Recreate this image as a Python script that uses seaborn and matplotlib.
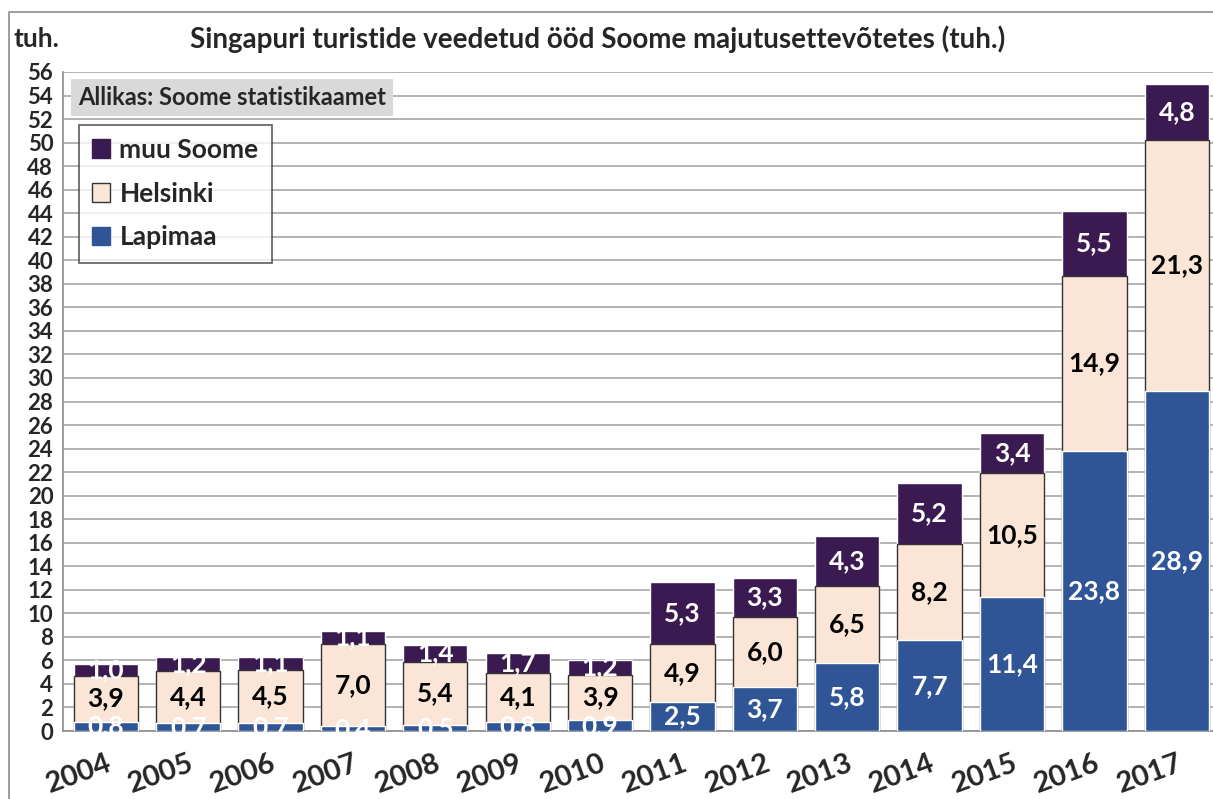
import numpy as np
import matplotlib
matplotlib.use('Agg')
import matplotlib.pyplot as plt
import seaborn as sns
import pandas as pd
from matplotlib.lines import Line2D
from matplotlib.patches import Patch

years = ['2004', '2005', '2006', '2007', '2008', '2009', '2010',
         '2011', '2012', '2013', '2014', '2015', '2016', '2017']
lapimaa = [0.8, 0.7, 0.7, 0.4, 0.5, 0.8, 0.9, 2.5, 3.7, 5.8, 7.7, 11.4, 23.8, 28.9]
helsinki = [3.9, 4.4, 4.5, 7.0, 5.4, 4.1, 3.9, 4.9, 6.0, 6.5, 8.2, 10.5, 14.9, 21.3]
muu_soome = [1.0, 1.2, 1.1, 1.1, 1.4, 1.7, 1.2, 5.3, 3.3, 4.3, 5.2, 3.4, 5.5, 4.8]

c_lap = '#2F5597'
c_hel = '#FBE5D6'
c_muu = '#3A1A50'

sns.set_style('white')
plt.rcParams['font.family'] = ['Lato', 'DejaVu Sans']
plt.rcParams['font.weight'] = 'bold'

df = pd.DataFrame({'aasta': years, 'Lapimaa': lapimaa,
                   'Helsinki': helsinki, 'muu Soome': muu_soome})
df['lap_hel'] = df['Lapimaa'] + df['Helsinki']
df['kokku'] = df['lap_hel'] + df['muu Soome']

fig = plt.figure(figsize=(12.13, 7.99), dpi=100)
ax = fig.add_axes([63 / 1213, 68 / 799, 1 - 63 / 1213, 659 / 799])

# outer frame of the chart (left and top edges only, rest is cut off)
fig.lines.append(Line2D([9 / 1213, 9 / 1213, 1], [0, 1 - 12 / 799, 1 - 12 / 799],
                        transform=fig.transFigure, color='#8c8c8c', lw=1.2))

ax.set_axisbelow(True)
ax.yaxis.grid(True, color='#a6a6a6', lw=1.2)

w = 0.78
sns.barplot(data=df, x='aasta', y='kokku', color=c_muu, width=w,
            saturation=1, ax=ax, zorder=2)
sns.barplot(data=df, x='aasta', y='lap_hel', color=c_hel, width=w,
            saturation=1, edgecolor='#333333', linewidth=1.0, ax=ax, zorder=3)
sns.barplot(data=df, x='aasta', y='Lapimaa', color=c_lap, width=w,
            saturation=1, ax=ax, zorder=4)

lbl = dict(ha='center', va='center', fontsize=19, fontweight='bold', zorder=6)
for i in range(len(years)):
    ax.text(i, lapimaa[i] / 2, f'{lapimaa[i]:.1f}'.replace('.', ','),
            color='white', **lbl)
    ax.text(i, lapimaa[i] + helsinki[i] / 2, f'{helsinki[i]:.1f}'.replace('.', ','),
            color='black', **lbl)
    ax.text(i, lapimaa[i] + helsinki[i] + muu_soome[i] / 2,
            f'{muu_soome[i]:.1f}'.replace('.', ','), color='white', **lbl)

ax.set_xlim(-0.52, 13.44)
ax.set_ylim(0, 56)
ax.set_yticks(np.arange(0, 57, 2))
ax.tick_params(axis='y', labelsize=16, length=5, color='#8c8c8c', pad=2)
ax.set_xticks(np.arange(len(years)))
ax.set_xticklabels(years, rotation=20, fontsize=21, fontweight='bold',
                   ha='right', rotation_mode='anchor')
ax.tick_params(axis='x', length=0, pad=14)
ax.set_xticks(np.arange(len(years) - 1) + 0.5, minor=True)
ax.tick_params(axis='x', which='minor', length=9, color='#8c8c8c', width=1.2)
for t in ax.get_yticklabels():
    t.set_fontweight('bold')
ax.set_xlabel('')
ax.set_ylabel('')

for s in ['top', 'right']:
    ax.spines[s].set_visible(False)
for s in ['left', 'bottom']:
    ax.spines[s].set_color('#8c8c8c')
    ax.spines[s].set_linewidth(1.2)

fig.text(0.493, 0.951, 'Singapuri turistide veedetud ööd Soome majutusettevõtetes (tuh.)',
         ha='center', va='center', fontsize=20, fontweight='bold')
fig.text(14 / 1213, 0.951, 'tuh.', ha='left', va='center', fontsize=19,
         fontweight='bold')

ax.text(0.013, 0.961, 'Allikas: Soome statistikaamet', transform=ax.transAxes,
        ha='left', va='center', fontsize=17, fontweight='bold', zorder=7,
        bbox=dict(boxstyle='square,pad=0.3', facecolor='#d9d9d9', edgecolor='none'))

handles = [Patch(facecolor=c_muu, edgecolor=c_muu, label='muu Soome'),
           Patch(facecolor=c_hel, edgecolor='#333333', label='Helsinki'),
           Patch(facecolor=c_lap, edgecolor=c_lap, label='Lapimaa')]
leg = ax.legend(handles=handles, loc='upper left', bbox_to_anchor=(0.0135, 0.92),
                frameon=True, fancybox=False, handlelength=0.7,
                handleheight=0.7, handletextpad=0.35, labelspacing=0.75,
                borderpad=0.5, borderaxespad=0, prop={'weight': 'bold', 'size': 19})
leg.get_frame().set_edgecolor('#333333')
leg.get_frame().set_linewidth(1.2)
leg.set_zorder(8)

fig.savefig('out.png', dpi=100)
